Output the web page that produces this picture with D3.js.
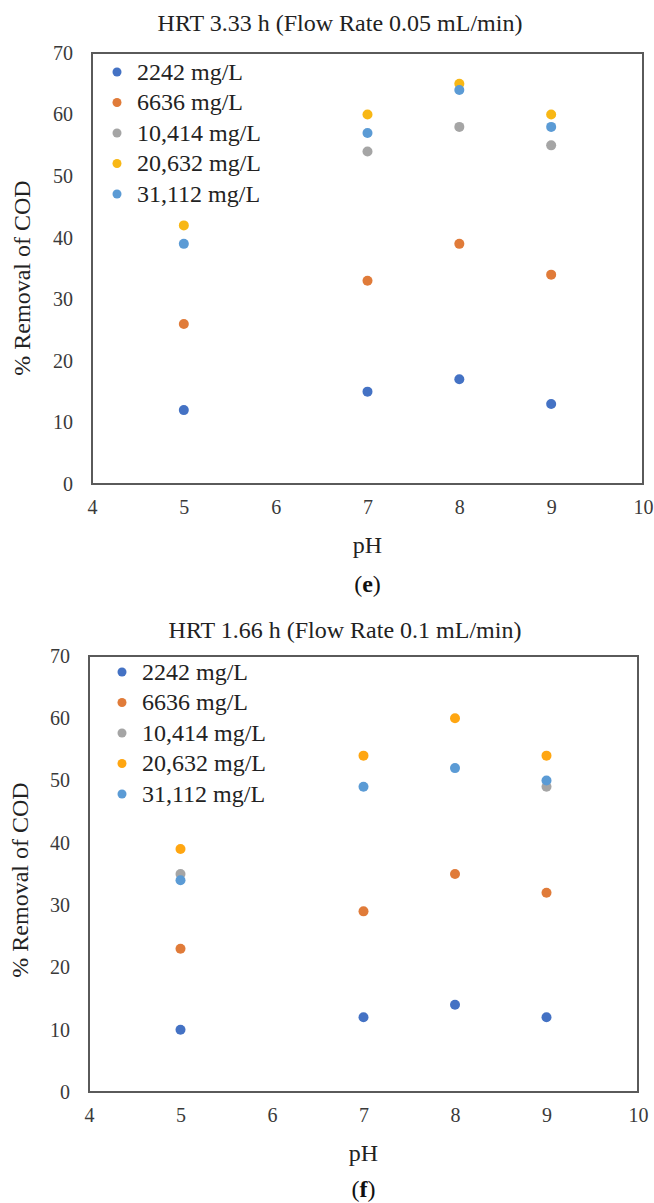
<!DOCTYPE html>
<html lang="en">
<head>
<meta charset="UTF-8">
<title>COD removal vs pH</title>
<script src="https://cdn.jsdelivr.net/npm/d3@7/dist/d3.min.js"></script>
<style>
  body { margin: 0; background: #fff; }
  svg text { font-family: "Liberation Serif", "Times New Roman", serif; }
</style>
</head>
<body>
<script>
    // pH values tested
    var phValues = [5, 7, 8, 9];
    var seriesNames = ["2242 mg/L", "6636 mg/L", "10,414 mg/L", "20,632 mg/L", "31,112 mg/L"];
    var xTicks = [4, 5, 6, 7, 8, 9, 10];
    var yTicks = [0, 10, 20, 30, 40, 50, 60, 70];

    // (e) HRT 3.33 h, % removal of COD
    var removalE_2242 = [12, 15, 17, 13];
    var removalE_6636 = [26, 33, 39, 34];
    var removalE_10414 = [null, 54, 58, 55];
    var removalE_20632 = [42, 60, 65, 60];
    var removalE_31112 = [39, 57, 64, 58];

    // (f) HRT 1.66 h
    var removalF_2242 = [10, 12, 14, 12];
    var removalF_6636 = [23, 29, 35, 32];
    var removalF_10414 = [35, null, null, 49];
    var removalF_20632 = [39, 54, 60, 54];
    var removalF_31112 = [34, 49, 52, 50];

    var colorsE = ["#4472C4", "#E07B39", "#A5A5A5", "#F8B715", "#5B9BD5"];
    var colorsF = ["#4472C4", "#E07B39", "#A5A5A5", "#FFA611", "#5B9BD5"];

    var svg = d3.select("body").append("svg")
        .attr("width", 654)
        .attr("height", 1203)
        .attr("viewBox", [0, 0, 654, 1203]);

    function drawPanel(p) {
        var g = svg.append("g");

        var xScale = d3.scaleLinear().domain([4, 10]).range([p.left, p.right]);
        var yScale = d3.scaleLinear().domain([0, 70]).range([p.bottom, p.top]);

        // title
        g.append("text")
            .attr("x", p.titleX)
            .attr("y", p.titleY)
            .attr("text-anchor", "middle")
            .attr("font-size", "24px")
            .attr("fill", "#222")
            .text(p.title);

        // axes (labels only, box drawn below)
        var yAxis = g.append("g")
            .attr("transform", "translate(" + p.left + ",0)")
            .call(d3.axisLeft(yScale).tickValues(yTicks).tickFormat(d3.format("d"))
                .tickSize(0).tickPadding(19));
        var xAxis = g.append("g")
            .attr("transform", "translate(0," + p.bottom + ")")
            .call(d3.axisBottom(xScale).tickValues(xTicks).tickFormat(d3.format("d"))
                .tickSize(0).tickPadding(16));
        [xAxis, yAxis].forEach(function (a) {
            a.attr("font-family", null).attr("font-size", null);
            a.select(".domain").remove();
            a.selectAll("text")
                .attr("font-size", "20px")
                .attr("fill", "#3a3a3a");
        });

        g.append("rect")
            .attr("x", p.left)
            .attr("y", p.top)
            .attr("width", p.right - p.left)
            .attr("height", p.bottom - p.top)
            .attr("fill", "none")
            .attr("stroke", "#5a5a5a")
            .attr("stroke-width", 2);

        // axis titles
        g.append("text")
            .attr("x", (p.left + p.right) / 2)
            .attr("y", p.pHY)
            .attr("text-anchor", "middle")
            .attr("font-size", "24px")
            .attr("fill", "#222")
            .text("pH");

        g.append("text")
            .attr("transform", "translate(" + p.yTitleX + "," + p.yTitleY + ") rotate(-90)")
            .attr("text-anchor", "middle")
            .attr("font-size", "24px")
            .attr("fill", "#222")
            .text("% Removal of COD");

        // panel label
        var lab = g.append("text")
            .attr("x", (p.left + p.right) / 2)
            .attr("y", p.labelY)
            .attr("text-anchor", "middle")
            .attr("font-size", "24px")
            .attr("fill", "#111");
        lab.append("tspan").text("(");
        lab.append("tspan").attr("font-weight", "bold").text(p.label);
        lab.append("tspan").text(")");

        // points
        for (var i = 0; i < p.series.length; i++) {
            var pts = phValues.map(function (ph, j) { return [ph, p.series[i][j]]; })
                .filter(function (d) { return d[1] != null; });
            g.append("g").selectAll("circle")
                .data(pts)
                .enter().append("circle")
                .attr("cx", function (d) { return xScale(d[0]); })
                .attr("cy", function (d) { return yScale(d[1]); })
                .attr("r", 5)
                .attr("fill", p.colors[i]);
        }

        // legend
        for (var i = 0; i < seriesNames.length; i++) {
            var ly = p.legendY + i * 30.5;
            g.append("circle")
                .attr("cx", p.legendX)
                .attr("cy", ly)
                .attr("r", 4.5)
                .attr("fill", p.colors[i]);
            g.append("text")
                .attr("x", p.legendX + 20)
                .attr("y", ly)
                .attr("dy", "0.33em")
                .attr("font-size", "24px")
                .attr("fill", "#222")
                .text(seriesNames[i]);
        }
    }

    drawPanel({
        title: "HRT 3.33 h (Flow Rate 0.05 mL/min)",
        label: "e",
        left: 92, right: 643, top: 53, bottom: 484,
        titleX: 340, titleY: 31,
        pHY: 553, labelY: 592,
        yTitleX: 30, yTitleY: 278,
        legendX: 117, legendY: 72,
        colors: colorsE,
        series: [removalE_2242, removalE_6636, removalE_10414, removalE_20632, removalE_31112]
    });

    drawPanel({
        title: "HRT 1.66 h (Flow Rate 0.1 mL/min)",
        label: "f",
        left: 89, right: 638, top: 656, bottom: 1092,
        titleX: 345, titleY: 638,
        pHY: 1161, labelY: 1197,
        yTitleX: 28, yTitleY: 880,
        legendX: 122, legendY: 672,
        colors: colorsF,
        series: [removalF_2242, removalF_6636, removalF_10414, removalF_20632, removalF_31112]
    });
</script>
</body>
</html>
